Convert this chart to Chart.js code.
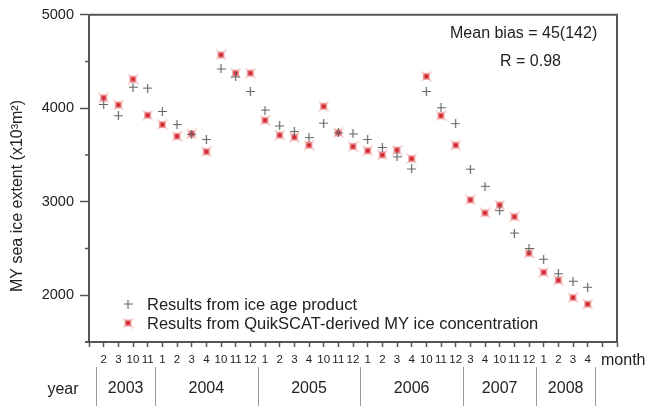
<!DOCTYPE html>
<html>
<head>
<meta charset="utf-8">
<script src="https://cdn.jsdelivr.net/npm/chart.js@4.4.0/dist/chart.umd.min.js"></script>
<style>
  html, body { margin: 0; padding: 0; background: #fff; }
  #wrap { width: 646px; height: 406px; }
</style>
</head>
<body>
<div id="wrap"><canvas id="c" width="646" height="406"></canvas></div>
<script>
// ---- data ----
const months = [2, 3, 10, 11, 1, 2, 3, 4, 10, 11, 12, 1, 2, 3, 4, 10, 11, 12, 1, 2, 3, 4, 10, 11, 12, 3, 4, 10, 11, 12, 1, 2, 3, 4];
const years = ['2003', '2004', '2005', '2006', '2007', '2008'];
const yearCounts = [4, 7, 7, 7, 5, 4];
const iceAgeProduct = [4040, 3920, 4225, 4215, 3965, 3825, 3720, 3665, 4420, 4335, 4180, 3980, 3810, 3750, 3685, 3840, 3735, 3725, 3665, 3580, 3480, 3350, 4180, 4005, 3835, 3348, 3165, 2905, 2665, 2500, 2385, 2230, 2150, 2085];
const quikscatMY = [4110, 4035, 4310, 3925, 3825, 3700, 3725, 3535, 4570, 4375, 4375, 3870, 3712, 3690, 3605, 4020, 3738, 3590, 3545, 3500, 3552, 3460, 4340, 3920, 3605, 3020, 2880, 2965, 2840, 2450, 2245, 2160, 1975, 1905];
const yMajorTicks = [2000, 3000, 4000, 5000];
const seriesLabels = ['Results from ice age product', 'Results from QuikSCAT-derived MY ice concentration'];
const yTitle = 'MY sea ice extent (x10\u00B3m\u00B2)';
const annotation = ['Mean bias = 45(142)', 'R = 0.98'];

const FONT = '"Liberation Sans", Arial, Helvetica, sans-serif';
const AXIS = '#555';
const TXT = '#222';

function plusMarker() {
  const c = document.createElement('canvas');
  c.width = 9; c.height = 9;
  const g = c.getContext('2d');
  g.strokeStyle = '#666';
  g.lineWidth = 1.2;
  g.beginPath();
  g.moveTo(0, 4.5); g.lineTo(9, 4.5);
  g.moveTo(4.5, 0); g.lineTo(4.5, 9);
  g.stroke();
  return c;
}
function redMarker() {
  const c = document.createElement('canvas');
  c.width = 11; c.height = 11;
  const g = c.getContext('2d');
  g.strokeStyle = 'rgba(235,150,150,0.45)';
  g.lineWidth = 1.6;
  g.beginPath();
  g.moveTo(0.5, 0.5); g.lineTo(10.5, 10.5);
  g.moveTo(10.5, 0.5); g.lineTo(0.5, 10.5);
  g.stroke();
  g.fillStyle = 'rgba(238,150,150,0.9)';
  g.fillRect(2, 2, 7, 7);
  g.fillStyle = '#d02530';
  g.fillRect(3.5, 3.5, 4, 4);
  return c;
}
const grayPt = plusMarker();
const redPt = redMarker();

const overlay = {
  id: 'overlay',
  afterDraw(chart) {
    const ctx = chart.ctx;
    const a = chart.chartArea;
    const xs = chart.scales.x, ys = chart.scales.y;
    ctx.save();
    // frame top & right, small extension of x axis to the left
    ctx.strokeStyle = AXIS;
    ctx.lineWidth = 2;
    ctx.beginPath();
    ctx.moveTo(a.left, a.top); ctx.lineTo(a.right, a.top); ctx.lineTo(a.right, a.bottom);
    ctx.moveTo(a.left - 4, a.bottom); ctx.lineTo(a.left, a.bottom);
    ctx.stroke();
    // minor y ticks
    ctx.lineWidth = 1.5;
    ctx.beginPath();
    for (let v = ys.min; v <= ys.max; v += 500) {
      if (v % 1000 === 0) continue;
      const py = ys.getPixelForValue(v);
      ctx.moveTo(a.left - 4, py); ctx.lineTo(a.left, py);
    }
    ctx.stroke();
    // y title
    ctx.fillStyle = TXT;
    ctx.font = '16px ' + FONT;
    ctx.textAlign = 'center';
    ctx.textBaseline = 'middle';
    ctx.save();
    ctx.translate(18, 196);
    ctx.rotate(-Math.PI / 2);
    ctx.fillText(yTitle, 0, 0);
    ctx.restore();
    // annotation
    ctx.font = '16px ' + FONT;
    ctx.textAlign = 'left';
    ctx.fillText(annotation[0], 450, 34);
    ctx.fillText(annotation[1], 500, 62);
    // legend
    const ds = chart.data.datasets;
    const legY = [304, 323];
    ds.forEach((d, i) => {
      const img = d.pointStyle;
      ctx.drawImage(img, 128 - img.width / 2, legY[i] - img.height / 2);
      ctx.fillStyle = TXT;
      ctx.font = '16.5px ' + FONT;
      ctx.fillText(d.label, 147, legY[i] + 1);
    });
    // month word
    ctx.font = '16px ' + FONT;
    ctx.fillText('month', 601, 361);
    // year row
    ctx.textAlign = 'center';
    ctx.fillText('year', 63, 390);
    ctx.strokeStyle = '#999';
    ctx.lineWidth = 1;
    let start = 0;
    const bounds = [start - 0.5];
    yearCounts.forEach(n => { start += n; bounds.push(start - 0.5); });
    ctx.beginPath();
    bounds.forEach(b => {
      const px = Math.round(xs.getPixelForValue(b)) + 0.5;
      ctx.moveTo(px, 367); ctx.lineTo(px, 406);
    });
    ctx.stroke();
    for (let i = 0; i < years.length; i++) {
      const cx = (xs.getPixelForValue(bounds[i]) + xs.getPixelForValue(bounds[i + 1])) / 2;
      ctx.fillStyle = TXT;
      ctx.fillText(years[i], cx, 389);
    }
    ctx.restore();
  }
};

new Chart(document.getElementById('c'), {
  type: 'scatter',
  data: {
    datasets: [
      {
        label: seriesLabels[0],
        data: iceAgeProduct.map((v, i) => ({ x: i, y: v })),
        pointStyle: grayPt,
        pointRadius: 4,
        order: 0
      },
      {
        label: seriesLabels[1],
        data: quikscatMY.map((v, i) => ({ x: i, y: v })),
        pointStyle: redPt,
        pointRadius: 4,
        order: 1
      }
    ]
  },
  options: {
    responsive: false,
    animation: false,
    devicePixelRatio: 1,
    layout: { padding: { top: 13, right: 29, left: 0, bottom: 0 } },
    plugins: { legend: { display: false }, tooltip: { enabled: false } },
    scales: {
      x: {
        type: 'linear',
        position: 'bottom',
        min: -1,
        max: 35,
        afterFit(s) { s.height = 64; },
        afterBuildTicks(s) {
          const t = [];
          for (let v = -1; v <= 35; v++) t.push({ value: v });
          s.ticks = t;
        },
        ticks: {
          autoSkip: false,
          maxRotation: 0,
          padding: 6,
          color: TXT,
          font: { family: FONT, size: 11.5 },
          callback: (v) => (v >= 0 && v < months.length) ? String(months[v]) : ''
        },
        grid: { drawOnChartArea: false, drawTicks: true, tickLength: 5, tickColor: AXIS, tickWidth: 1.5 },
        border: { display: true, color: AXIS, width: 2 }
      },
      y: {
        min: 1500,
        max: 5000,
        afterFit(s) { s.width = 89; },
        afterBuildTicks(s) { s.ticks = yMajorTicks.map(v => ({ value: v })); },
        ticks: {
          padding: 6,
          color: TXT,
          font: { family: FONT, size: 14.5 },
          callback: (v) => String(v)
        },
        grid: { drawOnChartArea: false, drawTicks: true, tickLength: 9, tickColor: AXIS, tickWidth: 1.5 },
        border: { display: true, color: AXIS, width: 2 }
      }
    }
  },
  plugins: [overlay]
});
</script>
</body>
</html>
